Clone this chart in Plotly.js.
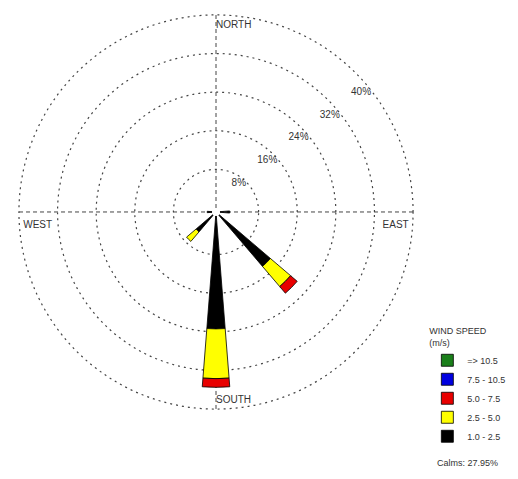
<!DOCTYPE html>
<html>
<head>
<meta charset="utf-8">
<script src="https://cdn.plot.ly/plotly-3.0.1.min.js"></script>
<style>html,body{margin:0;padding:0;background:#fff;}#chart{width:518px;height:479px;}</style>
</head>
<body>
<div id="chart"></div>
<script>
// Direction of each sector (degrees clockwise from north)
var directions = [0, 22.5, 45, 67.5, 90, 112.5, 135, 157.5, 180, 202.5, 225, 247.5, 270, 292.5, 315, 337.5];
// Frequency (%) per speed class, per direction
var speed_1_0_2_5  = [0, 0, 0, 0, 2.0, 0, 14.0, 0, 23.4, 0, 4.6, 0, 1.0, 0, 0, 0];
var speed_2_5_5_0  = [0, 0, 0, 0, 0,   0, 5.5,  0, 10.3, 0, 2.6, 0, 0,   0, 0, 0];
var speed_5_0_7_5  = [0, 0, 0, 0, 0,   0, 1.8,  0, 1.8,  0, 0,   0, 0,   0, 0, 0];
var speed_7_5_10_5 = [0, 0, 0, 0, 0,   0, 0,    0, 0,    0, 0,   0, 0,   0, 0, 0];
var speed_ge_10_5  = [0, 0, 0, 0, 0,   0, 0,    0, 0,    0, 0,   0, 0,   0, 0, 0];
var classLabels = ["1.0 - 2.5", "2.5 - 5.0", "5.0 - 7.5", "7.5 - 10.5", "=> 10.5"];
var classColors = ["#000000", "#ffff00", "#e80000", "#0000e0", "#1a7f1a"];
var radialTicks = [8, 16, 24, 32, 40];
var radialTickText = ["8%", "16%", "24%", "32%", "40%"];
var compassNames = ["NORTH", "EAST", "SOUTH", "WEST"];
var compassTheta = [0, 94, 180, 266];
var compassR = [37.8, 39.2, 38.3, 39.2];
var gridTheta = [0, 90, 180, 270];
var calms = "27.95%";

var series = [speed_1_0_2_5, speed_2_5_5_0, speed_5_0_7_5, speed_7_5_10_5, speed_ge_10_5];
var font = "Liberation Sans, Arial, sans-serif";
var traces = series.map(function (vals, i) {
  return {
    type: "barpolar",
    r: vals,
    theta: directions,
    name: classLabels[i],
    width: 9,
    marker: {color: classColors[i], line: {color: "#000", width: 0.8}},
    hoverinfo: "skip"
  };
});
traces.push({
  type: "scatterpolar",
  mode: "text",
  r: compassR,
  theta: compassTheta,
  text: compassNames,
  textposition: ["middle right", "middle left", "middle right", "middle right"],
  textfont: {family: font, size: 10, color: "#333"},
  showlegend: false,
  hoverinfo: "skip",
  cliponaxis: false
});

var layout = {
  width: 518, height: 479,
  margin: {l: 0, r: 0, t: 0, b: 0},
  paper_bgcolor: "#fff",
  font: {family: font, size: 10, color: "#333"},
  polar: {
    domain: {x: [0.0328, 0.8012], y: [0.1420, 0.9729]},
    bgcolor: "#fff",
    barmode: "stack",
    hole: 0.02,
    radialaxis: {
      range: [0, 40.4],
      tickmode: "array",
      tickvals: radialTicks,
      ticktext: radialTickText,
      angle: 36,
      side: "counterclockwise",
      tickangle: 36,
      showline: false,
      ticks: "",
      gridcolor: "#444",
      griddash: "2px,4px",
      gridwidth: 1.2,
      tickfont: {family: font, size: 10, color: "#333"}
    },
    angularaxis: {
      rotation: 90,
      direction: "clockwise",
      tickmode: "array",
      tickvals: gridTheta,
      showticklabels: false,
      ticks: "",
      showline: false,
      gridcolor: "#444",
      griddash: "4px,3px",
      gridwidth: 1
    }
  },
  showlegend: true,
  legend: {
    x: 0.825, y: 0.327, xanchor: "left", yanchor: "top",
    traceorder: "reversed",
    title: {text: "WIND SPEED<br>(m/s)", font: {family: font, size: 9, color: "#333"}},
    font: {family: font, size: 9, color: "#333"},
    itemwidth: 30,
    bgcolor: "rgba(0,0,0,0)"
  },
  annotations: [{
    xref: "paper", yref: "paper", x: 0.84, y: 0.033, xanchor: "left", yanchor: "middle",
    text: "Calms: " + calms, showarrow: false,
    font: {family: font, size: 9, color: "#333"}
  }]
};
Plotly.newPlot("chart", traces, layout, {displayModeBar: false, staticPlot: true});
</script>
</body>
</html>
